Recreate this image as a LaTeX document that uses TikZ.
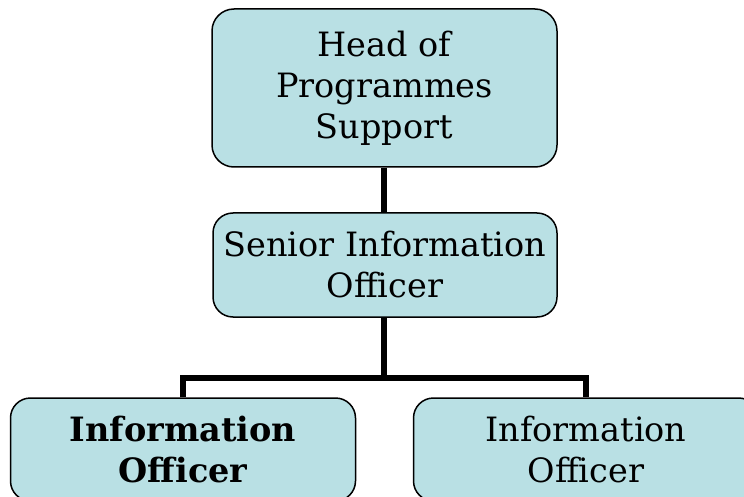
\documentclass[tikz,border=0pt]{standalone}
\usepackage{fontspec}
\setmainfont{DejaVu Serif}
\definecolor{boxfill}{RGB}{185,224,228}
\begin{document}
\begin{tikzpicture}[x=1pt,y=-1pt,
  post/.style={draw=black, line width=1.5pt, fill=boxfill, rounded corners=22pt,
    align=center, inner sep=0pt,
    font=\fontsize{33.5}{41}\selectfont},
  link/.style={line width=5.6pt, black}]
  \useasboundingbox (0,0) rectangle (744,497);
  % boxes
  \node[post, minimum width=345pt, minimum height=158pt] (head) at (384.5,88) {Head of\\Programmes\\Support};
  \node[post, minimum width=344pt, minimum height=104pt, rounded corners=20pt] (senior) at (385,265) {Senior Information\\Officer};
  \node[post, minimum width=345pt, minimum height=103pt, rounded corners=20pt] (infoA) at (183,449.5) {\bfseries Information\\\bfseries Officer};
  \node[post, minimum width=345pt, minimum height=103pt, rounded corners=20pt] (infoB) at (586,449.5) {Information\\Officer};
  % connectors
  \coordinate (bar) at (384,378);
  \draw[link] (head.south -| bar) -- (senior.north -| bar);
  \draw[link] (senior.south -| bar) -- (bar);
  \draw[link] (infoA.north) |- (bar) -| (infoB.north);
\end{tikzpicture}
\end{document}
